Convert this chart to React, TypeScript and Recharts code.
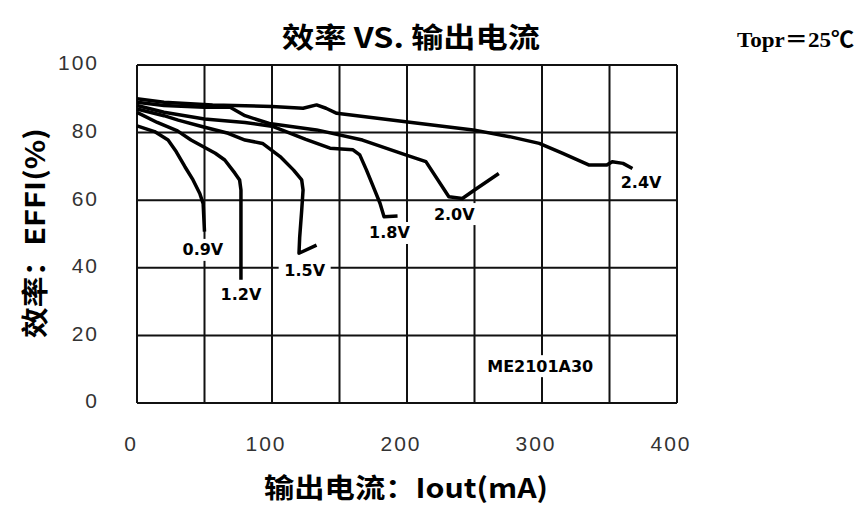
import React from 'react';
import { LineChart, Line, XAxis, YAxis, CartesianGrid, ReferenceDot, Customized } from 'recharts';

// Efficiency (%) vs output current (mA) for each input voltage
const v09: number[][] = [[0, 82], [13, 80.3], [23, 77.8], [29, 74.4], [35.5, 69.9], [41.5, 66], [46.5, 62], [49, 59], [50, 50.7]];
const v12: number[][] = [[0, 86], [15, 83], [30, 80.5], [40, 77.8], [58, 73.9], [65, 71.9], [72.5, 68], [76, 66], [77, 63], [77, 50], [77, 36.5]];
const v15: number[][] = [[0, 87], [20, 85], [30.5, 83.7], [48, 81.8], [67.5, 79.8], [80, 77.8], [93, 76.8], [106, 72.9], [116, 68.9], [122, 66], [123, 63], [122, 57], [120.5, 49], [120, 44.3], [133, 46.7]];
const v18: number[][] = [[0, 88], [20, 86], [50, 84], [80, 83], [101, 81.8], [125, 78], [143, 75.4], [160, 74.9], [165, 73.4], [170, 68.9], [175, 64], [180, 59.1], [183, 55.1], [193, 55.3]];
const v20: number[][] = [[0, 89], [20, 88], [50, 87.5], [69, 87.5], [80, 85], [98, 82.7], [133, 80.8], [167, 77.8], [199, 73.4], [214, 71.4], [231, 61], [241, 60.5], [250, 63], [268, 67.9]];
const v24: number[][] = [[0, 90], [20, 89], [56, 88.2], [100, 87.7], [123, 87.2], [133, 88.2], [140, 87.2], [148, 85.7], [199, 83.2], [249, 80.8], [276, 78.8], [298, 76.8], [315, 73.9], [335, 70.4], [348, 70.4], [352, 71.4], [360, 70.9], [367, 69.4]];

const seriesList = [v09, v12, v15, v18, v20, v24];

// Curve labels (data coordinates)
const labelTexts = ['0.9V', '1.2V', '1.5V', '1.8V', '2.0V', '2.4V', 'ME2101A30'];
const labelX = [48.8, 77, 124.2, 187, 235, 373.4, 298.7];
const labelY = [45.3, 32, 39.3, 50.3, 55.9, 65.1, 10.9];

const xTicks = [0, 50, 100, 150, 200, 250, 300, 350, 400];
const yTicks = [0, 20, 40, 60, 80, 100];

const title = '效率 VS. 输出电流';
const tempNote = 'Topr＝25℃';
const xTitle = '输出电流：Iout(mA)';
const yTitle = '效率：EFFI(%)';

const toPts = (arr: number[][]) => arr.map(([x, y]) => ({ x, y }));

const LabelBox = (props: any) => {
  const { cx, cy, text } = props;
  const w = text.length * 11 + 8;
  return (
    <g>
      <rect x={cx - w / 2} y={cy - 11} width={w} height={22} fill="#fff" />
      <text x={cx} y={cy} textAnchor="middle" dominantBaseline="central"
        fontFamily="DejaVu Sans" fontWeight="bold" fontSize={16} fill="#000">{text}</text>
    </g>
  );
};

const Texts = () => (
  <g>
    <text x={411} y={48} textAnchor="middle" fontFamily="'Noto Sans CJK SC', 'Liberation Sans'" fontWeight="bold"
      fontSize={28} fill="#000" textLength={258} lengthAdjust="spacingAndGlyphs">{title}</text>
    <text x={737} y={47} fontFamily="'Liberation Serif', 'Noto Sans CJK SC'" fontWeight="bold" fontSize={22} fill="#000"
      textLength={117} lengthAdjust="spacingAndGlyphs">{tempNote}</text>
    <text x={406} y={486} textAnchor="middle" dominantBaseline="central" fontFamily="'Noto Sans CJK SC', 'Liberation Sans'"
      fontWeight="bold" fontSize={27} fill="#000" textLength={284} lengthAdjust="spacingAndGlyphs">{xTitle}</text>
    <text x={0} y={0} transform="translate(33,233) rotate(-90)" textAnchor="middle" dominantBaseline="central"
      fontFamily="'Noto Sans CJK SC', 'Liberation Sans'" fontWeight="bold" fontSize={27} fill="#000"
      textLength={210} lengthAdjust="spacingAndGlyphs">{yTitle}</text>
  </g>
);

export default function App() {
  return (
    <div style={{ position: 'absolute', left: 0, top: 0, background: '#fff' }}>
      <LineChart width={857} height={506} margin={{ top: 65, right: 180, bottom: 73, left: 77 }}>
        <CartesianGrid stroke="#111" strokeWidth={2} />
        <XAxis type="number" dataKey="x" domain={[0, 400]} ticks={xTicks} interval={0} height={30}
          axisLine={false} tickLine={false} tickSize={0} tickMargin={33}
          tickFormatter={(v: number) => (v % 100 === 0 ? String(v) : '')}
          tick={{ fontFamily: 'Liberation Sans', fontSize: 21, fill: '#333', letterSpacing: 2, dx: -6 }} />
        <YAxis type="number" domain={[0, 100]} ticks={yTicks} width={60}
          axisLine={false} tickLine={false} tickSize={0} tickMargin={38}
          tick={{ fontFamily: 'Liberation Sans', fontSize: 21, fill: '#333', letterSpacing: 2, dy: -2 }} />
        {seriesList.map((s, i) => (
          <Line key={i} data={toPts(s)} dataKey="y" type="linear" stroke="#000" strokeWidth={3.5}
            strokeLinejoin="round" dot={false} isAnimationActive={false} />
        ))}
        {labelTexts.map((t, i) => (
          <ReferenceDot key={t} x={labelX[i]} y={labelY[i]} r={0} ifOverflow="visible"
            shape={(p: any) => <LabelBox cx={p.cx} cy={p.cy} text={t} />} />
        ))}
        <Customized component={Texts} />
      </LineChart>
    </div>
  );
}
